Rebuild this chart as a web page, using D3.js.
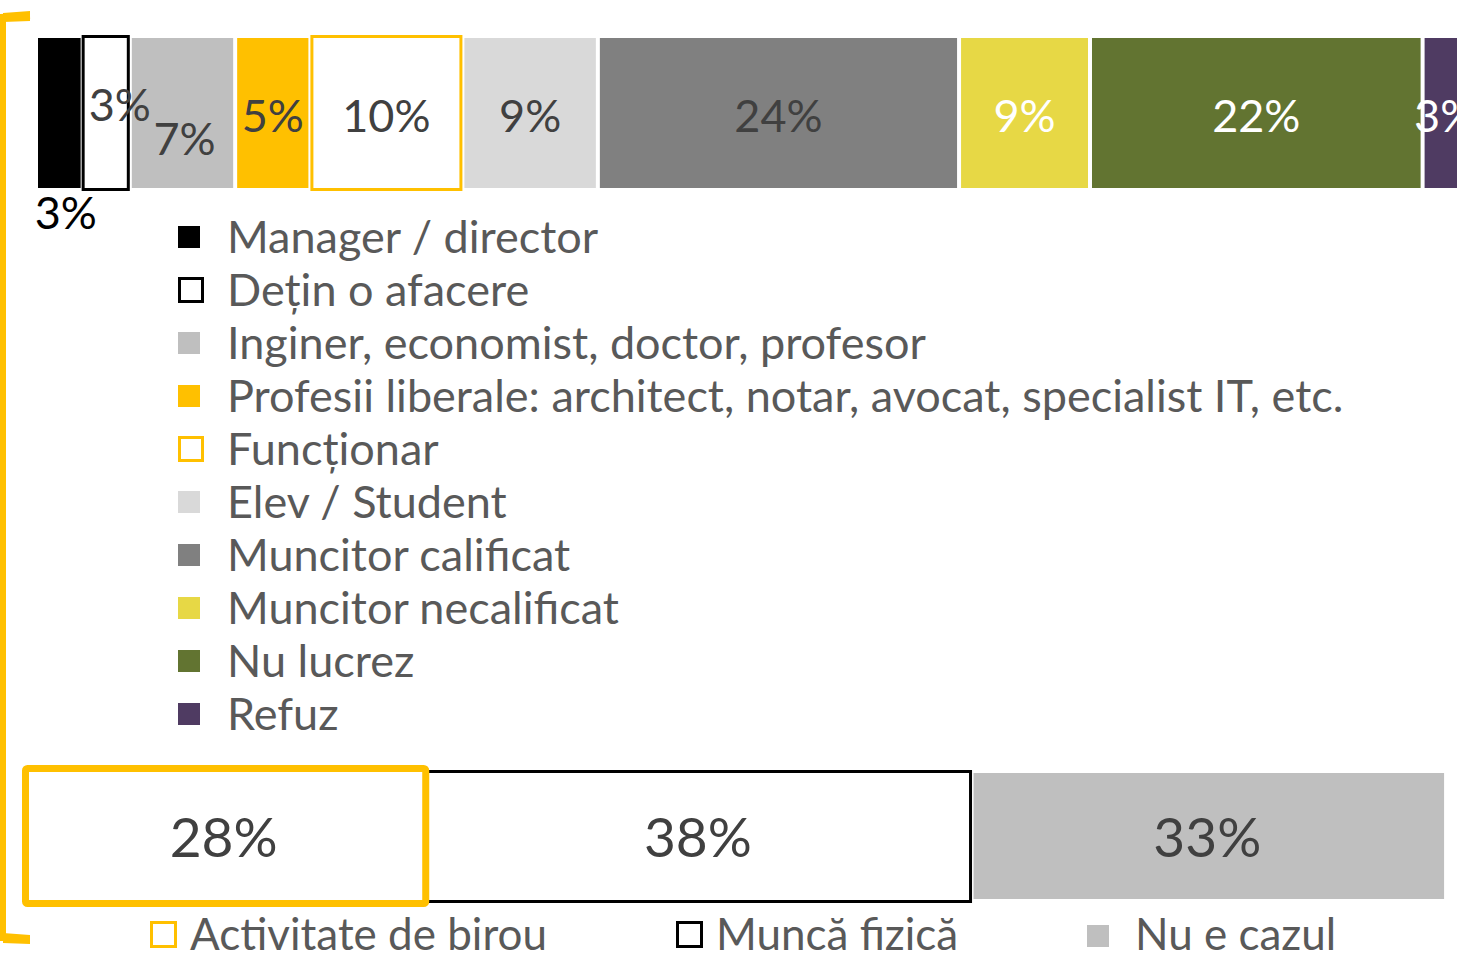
<!DOCTYPE html>
<html>
<head>
<meta charset="utf-8">
<script src="https://cdn.jsdelivr.net/npm/d3@7"></script>
<style>
  body { margin: 0; background: #fff; }
  svg text { font-family: Lato, "Open Sans", sans-serif; }
</style>
</head>
<body>
<script>
const width = 1457, height = 953;

// top bar: occupation
const occupations = ["Manager / director", "Dețin o afacere", "Inginer, economist, doctor, profesor",
  "Profesii liberale: architect, notar, avocat, specialist IT, etc.", "Funcționar", "Elev / Student",
  "Muncitor calificat", "Muncitor necalificat", "Nu lucrez", "Refuz"];
const occValues = [2.9, 3.2, 7.0, 5.0, 10.1, 9.0, 24.0, 8.7, 22.1, 3.0];
const occFills = ["#000000", "#ffffff", "#bfbfbf", "#ffc000", "#ffffff", "#d9d9d9", "#808080", "#e7d845", "#627431", "#4f3b62"];
const occStrokes = [null, "#000000", null, null, "#ffc000", null, null, null, null, null];
const occLabelColors = ["#000000", "#404040", "#404040", "#404040", "#404040", "#404040", "#404040", "#ffffff", "#ffffff", "#ffffff"];

// bottom bar: type of work
const workTypes = ["Activitate de birou", "Muncă fizică", "Nu e cazul"];
const workValues = [28.1, 38.0, 33.0];

const svg = d3.select("body").append("svg")
    .attr("width", width)
    .attr("height", height);

// bracket on the left
svg.append("path")
    .attr("d", "M30,16 L3,17 L3,938 L30,938")
    .attr("fill", "none")
    .attr("stroke", "#ffc000")
    .attr("stroke-width", 6);
svg.append("path").attr("d", "M3,13 L30,11 L30,21 L3,22 Z").attr("fill", "#ffc000");
svg.append("path").attr("d", "M3,933 L30,935 L30,944 L3,943 Z").attr("fill", "#ffc000");

const fmt = v => d3.format(".0f")(v) + "%";

// ---- top stacked bar
const x = d3.scaleLinear().domain([0, 100]).range([38, 38 + 1505]);
let acc = 0;
const occData = occValues.map((v, i) => {
  const d = {i, v, x0: acc, x1: acc + v};
  acc += v;
  return d;
});
const top0 = 38, top1 = 188;

const g = svg.append("g");
g.selectAll("rect.seg").data(occData).join("rect")
    .attr("class", "seg")
    .attr("x", d => x(d.x0) + (occStrokes[d.i] ? 1.5 : (d.i === 0 ? 0 : 2)))
    .attr("y", d => occStrokes[d.i] ? top0 - 1.5 : top0)
    .attr("width", d => x(d.x1) - x(d.x0) - (occStrokes[d.i] ? 3 : (d.i === 0 ? 1 : 4)))
    .attr("height", d => occStrokes[d.i] ? top1 - top0 + 3 : top1 - top0)
    .attr("fill", d => occFills[d.i])
    .attr("stroke", d => occStrokes[d.i])
    .attr("stroke-width", 3);

const labelShift = [[6, 100], [14, -8], [2, 26], [0, 3], [0, 3], [0, 3], [0, 3], [0, 3], [0, 3], [0, 3]];
g.selectAll("text.lab").data(occData).join("text")
    .attr("class", "lab")
    .attr("x", d => (x(d.x0) + x(d.x1)) / 2 + labelShift[d.i][0])
    .attr("y", d => (top0 + top1) / 2 + labelShift[d.i][1])
    .attr("dy", "0.35em")
    .attr("text-anchor", "middle")
    .attr("font-size", 45)
    .attr("fill", d => occLabelColors[d.i])
    .text(d => fmt(d.v));

// legend for top bar
const leg = svg.append("g").attr("transform", "translate(178,237)");
const rows = leg.selectAll("g").data(occupations).join("g")
    .attr("transform", (d, i) => `translate(0,${i * 53})`);
rows.append("rect")
    .attr("x", (d, i) => occStrokes[i] ? 1.5 : 0)
    .attr("y", (d, i) => occStrokes[i] ? -11.5 : -11)
    .attr("width", (d, i) => occStrokes[i] ? 23 : 22)
    .attr("height", (d, i) => occStrokes[i] ? 23 : 22)
    .attr("fill", (d, i) => occFills[i])
    .attr("stroke", (d, i) => occStrokes[i])
    .attr("stroke-width", 3);
rows.append("text")
    .attr("x", 49)
    .attr("dy", "0.36em")
    .attr("font-size", 45)
    .attr("fill", "#595959")
    .text(d => d);

// ---- bottom stacked bar
const xb = d3.scaleLinear().domain([0, 100]).range([22, 22 + 1435]);
acc = 0;
const workData = workValues.map((v, i) => {
  const d = {i, v, x0: acc, x1: acc + v};
  acc += v;
  return d;
});
const b0 = 770, b1 = 900;
const gb = svg.append("g");
// Nu e cazul
const w2 = workData[2];
gb.append("rect")
    .attr("x", xb(w2.x0) + 3).attr("y", b0 + 3)
    .attr("width", xb(w2.x1) - xb(w2.x0) - 3).attr("height", b1 - b0 - 4)
    .attr("fill", "#bfbfbf");
// Muncă fizică
const w1 = workData[1];
gb.append("rect")
    .attr("x", xb(w1.x0) + 1.5).attr("y", b0 + 1.5)
    .attr("width", xb(w1.x1) - xb(w1.x0) - 1.5).attr("height", b1 - b0)
    .attr("fill", "#ffffff").attr("stroke", "#000000").attr("stroke-width", 3);
// Activitate de birou
const w0 = workData[0];
gb.append("rect")
    .attr("x", xb(w0.x0) + 3.5).attr("y", b0 - 1.5)
    .attr("width", xb(w0.x1) - xb(w0.x0) - 3).attr("height", b1 - b0 + 5)
    .attr("rx", 2)
    .attr("fill", "#ffffff").attr("stroke", "#ffc000").attr("stroke-width", 7);

gb.selectAll("text").data(workData).join("text")
    .attr("x", d => (xb(d.x0) + xb(d.x1)) / 2 + (d.i === 0 ? 0 : 0))
    .attr("y", 838)
    .attr("dy", "0.35em")
    .attr("text-anchor", "middle")
    .attr("font-size", 55)
    .attr("fill", "#404040")
    .text(d => fmt(d.v));

// bottom legend
const bLegX = [150, 676, 1087];
const bLegText = [190, 716, 1135];
const bl = svg.append("g");
bl.append("rect").attr("x", bLegX[0] + 1.5).attr("y", 922.5).attr("width", 24).attr("height", 24)
    .attr("fill", "#fff").attr("stroke", "#ffc000").attr("stroke-width", 3);
bl.append("rect").attr("x", bLegX[1] + 1.5).attr("y", 922.5).attr("width", 24).attr("height", 24)
    .attr("fill", "#fff").attr("stroke", "#000").attr("stroke-width", 3);
bl.append("rect").attr("x", bLegX[2]).attr("y", 925).attr("width", 22).attr("height", 22)
    .attr("fill", "#bfbfbf");
bl.selectAll("text").data(workTypes).join("text")
    .attr("x", (d, i) => bLegText[i])
    .attr("y", 934)
    .attr("dy", "0.36em")
    .attr("font-size", 44)
    .attr("fill", "#595959")
    .text(d => d);
</script>
</body>
</html>
